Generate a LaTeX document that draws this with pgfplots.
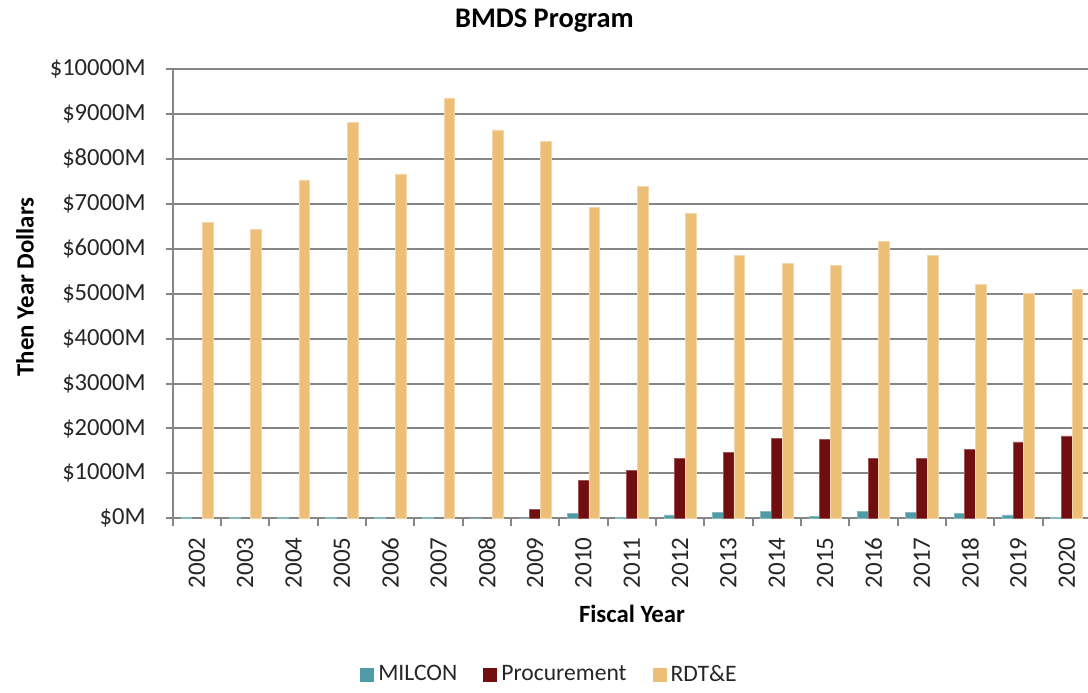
\documentclass[border=0pt]{standalone}
\usepackage{pgfplots}
\pgfplotsset{compat=1.18}
\usepackage{fontspec}
\setmainfont{Carlito}
\definecolor{milcon}{RGB}{79,156,166}
\definecolor{proc}{RGB}{112,14,16}
\definecolor{rdte}{RGB}{237,190,118}
\definecolor{gridgray}{RGB}{134,134,134}
\begin{document}
\begin{tikzpicture}
\useasboundingbox (-86.35pt,-86.85pt) rectangle (457.65pt,259.15pt);
\begin{axis}[
  scale only axis,
  width=457.65pt, height=224.65pt,
  at={(0,0)}, anchor=south west,
  xmin=-0.5, xmax=18.44,
  ymin=0, ymax=10000,
  scaled y ticks=false,
  ybar=0pt, bar width=5.35pt,
  axis x line*=bottom, axis y line*=left,
  axis line style={gridgray, line width=1pt},
  ytick={0,1000,...,10000},
  yticklabels={\$0M,\$1000M,\$2000M,\$3000M,\$4000M,\$5000M,\$6000M,\$7000M,\$8000M,\$9000M,\$10000M},
  xtick={0,...,18},
  xticklabels={2002,2003,2004,2005,2006,2007,2008,2009,2010,2011,2012,2013,2014,2015,2016,2017,2018,2019,2020},
  minor xtick={-0.5,0.5,...,18.5},
  major x tick style={draw=none},
  minor x tick style={gridgray, line width=1pt},
  y tick style={gridgray, line width=1pt},
  tick align=outside,
  major tick length=3.5pt, minor tick length=4pt,
  ymajorgrids, major grid style={gridgray, line width=1pt},
  yticklabel style={font=\fontsize{12.3}{14}\selectfont, text=black!85, xshift=-6.5pt},
  xticklabel style={font=\fontsize{12.5}{14}\selectfont, text=black!85, yshift=-2.5pt, rotate=90, anchor=east},
  title={BMDS Program},
  title style={font=\fontsize{14.2}{16}\selectfont\bfseries, at={(axis description cs:0.4062,1)}, anchor=base, yshift=15pt},
  xlabel={Fiscal Year},
  xlabel style={font=\fontsize{12.4}{14}\selectfont\bfseries, at={(axis description cs:0.5018,-0.213)}, anchor=center},
  ylabel={Then Year Dollars},
  ylabel style={font=\fontsize{12.4}{14}\selectfont\bfseries, at={(axis description cs:-0.1614,0.515)}, anchor=center, rotate=0},
  legend style={at={(0.4128,-0.348)}, anchor=center, legend columns=3, draw=none,
    font=\fontsize{11.8}{14}\selectfont, text=black!85,
    /tikz/every even column/.append style={column sep=11pt}},
  legend image code/.code={\path[#1,draw=none] (0pt,-3.5pt) rectangle (7pt,3.5pt);},
  clip=true,
]
\addplot[fill=milcon, draw=milcon!70!white, line width=0.3pt] coordinates {
(0,15) (1,15) (2,15) (3,15) (4,15) (5,20) (6,5) (7,10) (8,104) (9,22) (10,74) (11,133) (12,156) (13,44) (14,156) (15,126) (16,104) (17,74) (18,22)};
\addplot[fill=proc, draw=proc!70!white, line width=0.3pt] coordinates {
(7,200) (8,851) (9,1073) (10,1333) (11,1473) (12,1784) (13,1756) (14,1333) (15,1333) (16,1533) (17,1702) (18,1836)};
\addplot[fill=rdte, draw=rdte!60!white, line width=0.3pt] coordinates {
(0,6591) (1,6422) (2,7533) (3,8813) (4,7667) (5,9356) (6,8644) (7,8384) (8,6924) (9,7391) (10,6791) (11,5851) (12,5680) (13,5629) (14,6169) (15,5851) (16,5200) (17,5000) (18,5089)};
\legend{MILCON,Procurement,RDT\&E}
\end{axis}
\end{tikzpicture}
\end{document}
